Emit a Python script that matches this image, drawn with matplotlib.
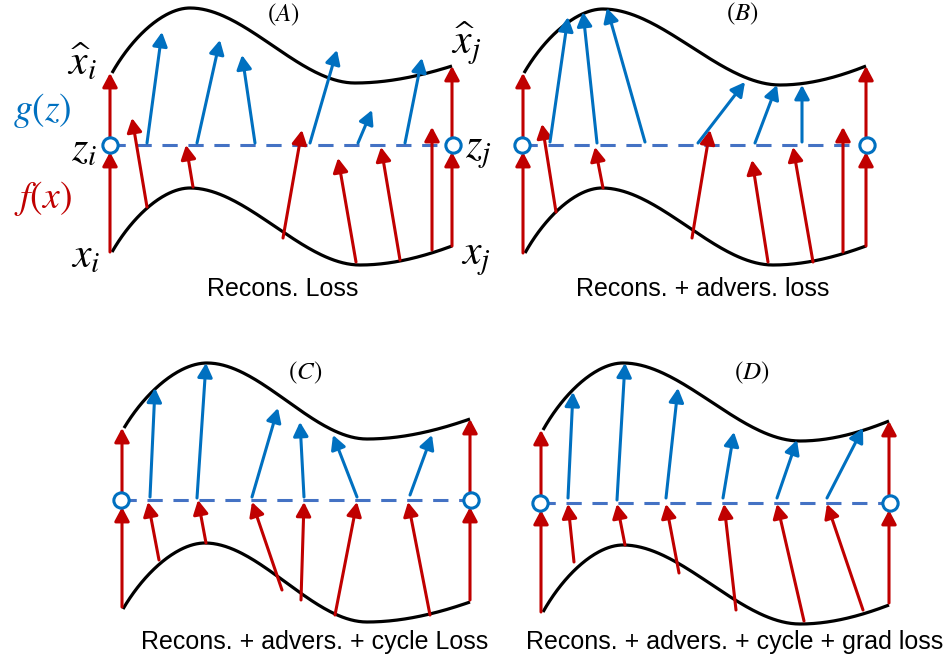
import numpy as np
import matplotlib
matplotlib.use("Agg")
import matplotlib.pyplot as plt

plt.rcParams["mathtext.fontset"] = "stix"

RED = "#C00000"
BLUE = "#0070C0"
DASH = "#4472C4"

# curve anchors: start, peak, trough, end (pixel coords)
upper_A = [(112, 73), (190, 8), (355, 83), (452, 66)]
lower_A = [(112, 252), (190, 188), (360, 265), (452, 246)]
upper_B = [(524, 73), (603, 9), (780, 85), (866, 66)]
lower_B = [(525, 253), (602, 188), (773, 265), (866, 246)]
upper_C = [(124, 428), (207, 363), (367, 439), (470, 419)]
lower_C = [(123, 609), (205, 543), (367, 622), (470, 602)]
upper_D = [(543, 430), (623, 363), (800, 441), (889, 421)]
lower_D = [(543, 612), (623, 545), (800, 624), (889, 605)]

# latent line: x_left, x_right, y
latent_A = (110, 453, 145)
latent_B = (522, 867, 145)
latent_C = (121, 471, 500)
latent_D = (540, 890, 503)

# f(x) arrows (x0, y0, x1, y1)
red_A = [(110, 252, 110, 152), (110, 138, 110, 73), (452, 246, 452, 152), (452, 138, 452, 66),
         (147, 207, 132, 118), (193, 187, 186, 145), (283, 238, 302, 130),
         (356, 262, 338, 158), (400, 260, 381, 147), (432, 250, 432, 127)]
red_B = [(523, 253, 523, 152), (523, 138, 523, 73), (866, 246, 866, 152), (866, 138, 866, 66),
         (556, 212, 542, 124), (603, 188, 595, 147), (692, 238, 710, 130),
         (768, 262, 752, 160), (813, 262, 793, 147), (843, 252, 843, 127)]
red_C = [(122, 607, 122, 507), (122, 493, 122, 428), (470, 600, 470, 507), (470, 493, 470, 419),
         (159, 560, 148, 502), (206, 543, 198, 500), (282, 590, 252, 502),
         (301, 600, 304, 502), (335, 615, 357, 502), (430, 615, 408, 502)]
red_D = [(541, 612, 541, 510), (541, 496, 541, 430), (889, 603, 889, 510), (889, 496, 889, 421),
         (574, 562, 568, 504), (625, 545, 617, 504), (679, 573, 666, 504),
         (736, 610, 724, 504), (804, 621, 777, 504), (863, 610, 827, 504)]

# g(z) arrows
blue_A = [(147, 143, 162, 32), (197, 143, 220, 40), (255, 143, 242, 55),
          (310, 143, 337, 50), (358, 143, 372, 110), (405, 143, 422, 58)]
blue_B = [(550, 142, 568, 17), (597, 143, 583, 12), (645, 142, 607, 8),
          (698, 143, 745, 82), (755, 143, 777, 85), (802, 142, 802, 85)]
blue_C = [(150, 497, 155, 388), (197, 498, 206, 363), (252, 497, 278, 408),
          (304, 497, 300, 422), (357, 497, 333, 435), (410, 495, 432, 435)]
blue_D = [(568, 498, 573, 392), (617, 500, 625, 363), (666, 498, 678, 388),
          (723, 498, 734, 432), (777, 498, 797, 440), (827, 498, 863, 428)]

tags = ["$(A)$", "$(B)$", "$(C)$", "$(D)$"]
tag_pos = [(283, 15), (742, 14), (305, 373), (752, 373)]
captions = ["Recons. Loss", "Recons. + advers. loss",
            "Recons. + advers. + cycle Loss", "Recons. + advers. + cycle + grad loss"]
caption_pos = [(283, 289), (703, 289), (315, 642), (735, 642)]


def smooth(pts, n=80):
    pts = np.array(pts, float)
    out = []
    for i in range(len(pts) - 1):
        p0, p1 = pts[i], pts[i + 1]
        dx, dy = p1 - p0
        m0 = np.array([dx, 0.0])
        m1 = np.array([dx, 0.0])
        if i == 0:
            m0 = np.array([dx * 0.8, dy * 1.7])
        if i == len(pts) - 2:
            m1 = np.array([dx, dy * 1.8])
        t = np.linspace(0, 1, n)[:, None]
        h00 = 2 * t**3 - 3 * t**2 + 1
        h10 = t**3 - 2 * t**2 + t
        h01 = -2 * t**3 + 3 * t**2
        h11 = t**3 - t**2
        out.append(h00 * p0 + h10 * m0 + h01 * p1 + h11 * m1)
    return np.vstack(out)


def arrow(ax, a, color):
    x0, y0, x1, y1 = a
    ax.annotate("", xy=(x1, y1), xytext=(x0, y0),
                arrowprops=dict(arrowstyle="-|>,head_length=0.6,head_width=0.32",
                                color=color, lw=2.2, shrinkA=0, shrinkB=0,
                                mutation_scale=14))


fig = plt.figure(figsize=(9.5, 6.59), dpi=100)
ax = fig.add_axes([0, 0, 1, 1])
ax.set_xlim(0, 950)
ax.set_ylim(659, 0)
ax.axis("off")

panels = [
    (upper_A, lower_A, latent_A, red_A, blue_A),
    (upper_B, lower_B, latent_B, red_B, blue_B),
    (upper_C, lower_C, latent_C, red_C, blue_C),
    (upper_D, lower_D, latent_D, red_D, blue_D),
]

for k, (up, lo, lat, reds, blues) in enumerate(panels):
    for c in (up, lo):
        xy = smooth(c)
        ax.plot(xy[:, 0], xy[:, 1], color="black", lw=2.3, solid_capstyle="butt")
    xl, xr, yl = lat
    ax.plot([xl, xr], [yl, yl], color=DASH, lw=2.2, ls=(0, (5, 3.5)))
    for a in reds:
        arrow(ax, a, RED)
    for a in blues:
        arrow(ax, a, BLUE)
    ax.plot([xl, xr], [yl, yl], "o", ms=11, mfc="white", mec=BLUE, mew=2.2, zorder=5)
    ax.text(*tag_pos[k], tags[k], fontsize=18, ha="center", va="center")
    ax.text(*caption_pos[k], captions[k], fontsize=18, ha="center", va="center",
            family="Liberation Sans")

# labels of panel A
ax.text(82, 62, r"$\widehat{x}_i$", fontsize=30, ha="center", va="center")
ax.text(42, 110, r"$g(z)$", fontsize=27, ha="center", va="center", color=BLUE)
ax.text(84, 148, r"$z_i$", fontsize=30, ha="center", va="center")
ax.text(43, 198, r"$f(x)$", fontsize=27, ha="center", va="center", color=RED)
ax.text(86, 255, r"$x_i$", fontsize=30, ha="center", va="center")
ax.text(466, 44, r"$\widehat{x}_j$", fontsize=30, ha="center", va="center")
ax.text(478, 150, r"$z_j$", fontsize=30, ha="center", va="center")
ax.text(476, 257, r"$x_j$", fontsize=30, ha="center", va="center")

fig.savefig("out.png", dpi=100)
